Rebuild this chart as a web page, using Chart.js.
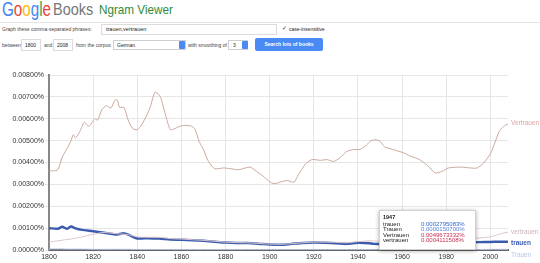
<!DOCTYPE html>
<html>
<head>
<meta charset="utf-8">
<script src="https://cdn.jsdelivr.net/npm/chart.js@4.4.1/dist/chart.umd.min.js"></script>
<style>
body{margin:0;width:540px;height:263px;background:#fff;font-family:"Liberation Sans",Arial,sans-serif;position:relative;overflow:hidden}
.a{position:absolute;white-space:nowrap}
.sm{font-size:5px;color:#444;line-height:6px}
.box{border:1px solid #dcdcdc;background:#fff;box-sizing:border-box}
.blue{background:#4a8af4;border-radius:1px}
#wrap{position:absolute;left:0;top:60px;width:540px;height:203px}
</style>
</head>
<body>
<div class="a" style="left:2px;top:-2px;font-size:20px;transform:scaleX(0.76);transform-origin:0 0"><span style="color:#4285f4">G</span><span style="color:#ea4335">o</span><span style="color:#fbbc05">o</span><span style="color:#4285f4">g</span><span style="color:#34a853">l</span><span style="color:#ea4335">e</span></div>
<div class="a" style="left:53px;top:0px;font-size:17px;color:#777;transform:scaleX(0.85);transform-origin:0 0">Books</div>
<div class="a" style="left:99px;top:2px;font-size:13px;color:#2e8b3e;transform:scaleX(0.9);transform-origin:0 0">Ngram Viewer</div>
<div class="a" style="left:0;top:22px;width:540px;height:1px;background:#e3e3e3"></div>

<div class="a sm" style="left:2px;top:26px">Graph these comma-separated phrases:</div>
<div class="a box" style="left:101px;top:24px;width:176px;height:11px"></div>
<div class="a sm" style="left:106px;top:26px;font-size:5.5px;color:#222">trauen,vertrauen</div>
<div class="a sm" style="left:282px;top:25px;font-size:6px;color:#333">&#10003;</div>
<div class="a sm" style="left:289px;top:26px;color:#222">case-insensitive</div>

<div class="a sm" style="left:2px;top:42px">between</div>
<div class="a box" style="left:21px;top:39px;width:20px;height:12px"></div>
<div class="a sm" style="left:25px;top:42px;color:#222">1800</div>
<div class="a sm" style="left:44px;top:42px">and</div>
<div class="a box" style="left:53px;top:39px;width:20px;height:12px"></div>
<div class="a sm" style="left:57px;top:42px;color:#222">2008</div>
<div class="a sm" style="left:76px;top:42px">from the corpus</div>
<div class="a box" style="left:113px;top:40px;width:73px;height:10px;border-color:#cfcfcf"></div>
<div class="a sm" style="left:117px;top:42px;color:#222">German</div>
<div class="a blue" style="left:179px;top:41px;width:6px;height:8px"></div>
<div class="a sm" style="left:188px;top:42px">with smoothing of</div>
<div class="a box" style="left:228px;top:40px;width:20px;height:10px;border-color:#cfcfcf"></div>
<div class="a sm" style="left:233px;top:42px;color:#222">3</div>
<div class="a blue" style="left:242px;top:41px;width:6px;height:8px"></div>
<div class="a" style="left:255px;top:38px;width:68px;height:13px;background:#4a8af4;border-radius:2px;color:#fff;font-size:5px;line-height:13px;text-align:center;font-weight:bold">Search lots of books</div>

<div id="wrap"><canvas id="ngram" width="540" height="203"></canvas></div>

<script>
// upper series, Vertrauen (percent)
const bigYears = [1800,1802,1804,1806,1808,1810,1811,1812,1814,1816,1818,1820,1821,1822,1824,1826,1828,1830,1831,1832,1834,1836,1838,1840,1842,1844,1846,1848,1850,1851,1853,1855,1857,1860,1864,1866,1868,1870,1872,1875,1879,1882,1886,1891,1894,1897,1900,1902,1906,1908,1911,1913,1916,1919,1923,1926,1929,1932,1935,1938,1941,1944,1946,1948,1950,1952,1956,1961,1964,1968,1972,1975,1978,1981,1987,1991,1994,1997,2000,2002,2004,2006,2008];
const bigVertrauen = [0.00362,0.00362,0.00367,0.00425,0.00460,0.00500,0.00527,0.00512,0.00542,0.00584,0.00565,0.00590,0.00600,0.00593,0.00642,0.00660,0.00649,0.00687,0.00685,0.00652,0.00652,0.00590,0.00555,0.00550,0.00573,0.00610,0.00657,0.00721,0.00708,0.00685,0.00610,0.00550,0.00555,0.00568,0.00568,0.00555,0.00497,0.00459,0.00410,0.00372,0.00375,0.00372,0.00367,0.00379,0.00360,0.00338,0.00312,0.00303,0.00314,0.00318,0.00310,0.00344,0.00390,0.00413,0.00410,0.00413,0.00405,0.00423,0.00451,0.00459,0.00460,0.00481,0.00500,0.00504,0.00497,0.00472,0.00459,0.00443,0.00428,0.00413,0.00382,0.00352,0.00359,0.00375,0.00379,0.00375,0.00375,0.00398,0.00440,0.00489,0.00542,0.00565,0.00577];

// lower series (percent)
const lowYears = [1800,1804,1806,1808,1810,1812,1815,1820,1825,1830,1834,1836,1840,1845,1850,1855,1860,1865,1870,1875,1880,1885,1890,1895,1900,1905,1910,1915,1920,1925,1930,1935,1940,1945,1947,1950,1955,1960,1965,1970,1975,1980,1985,1990,1995,2000,2004,2008];
const lowTrauen = [0.00100,0.00097,0.00106,0.00097,0.00107,0.00099,0.00092,0.00086,0.00079,0.00071,0.00076,0.00070,0.00053,0.00054,0.00052,0.00048,0.00047,0.00045,0.00042,0.00038,0.00034,0.00032,0.00032,0.00029,0.00025,0.00024,0.00028,0.00032,0.00034,0.00033,0.00031,0.00028,0.00033,0.00031,0.00028,0.00027,0.00026,0.00027,0.00026,0.00027,0.00029,0.00030,0.00031,0.00034,0.00036,0.00037,0.00038,0.00038];
const lowVertrauen = [0.00036,0.00042,0.00045,0.00048,0.00050,0.00054,0.00060,0.00072,0.00080,0.00075,0.00072,0.00070,0.00060,0.00058,0.00058,0.00052,0.00050,0.00047,0.00044,0.00040,0.00036,0.00034,0.00033,0.00030,0.00027,0.00026,0.00029,0.00033,0.00036,0.00036,0.00035,0.00033,0.00038,0.00042,0.00041,0.00040,0.00038,0.00037,0.00038,0.00040,0.00042,0.00045,0.00047,0.00050,0.00055,0.00060,0.00072,0.00082];
const capTrauen = [0.00005,0.00005,0.00005,0.00004,0.00004,0.00004,0.00004,0.00003,0.00003,0.00003,0.00003,0.00003,0.00002,0.00002,0.00002,0.00002,0.00002,0.00002,0.00002,0.00002,0.00002,0.00002,0.00002,0.00002,0.00002,0.00002,0.00002,0.00002,0.00002,0.00002,0.00002,0.00002,0.00002,0.00002,0.000015,0.000015,0.000015,0.000015,0.000015,0.000015,0.00002,0.00002,0.00002,0.00002,0.00002,0.00003,0.00003,0.00003];

// hover box content
const tipYear = 1947;
const tipNames = ['trauen','Trauen','Vertrauen','vertrauen'];
const tipValues = ['0.0002795083%','0.0000150700%','0.0049673332%','0.0004111508%'];

const pts = (xs, ys) => xs.map((x, i) => ({x: x, y: ys[i]}));

const endLabels = {
    id: 'endLabels',
    afterDatasetsDraw(chart) {
        const ctx = chart.ctx;
        const shifts = [-1, 0, 2, 6];
        ctx.save();
        ctx.textBaseline = 'middle';
        chart.data.datasets.forEach((ds, i) => {
            const meta = chart.getDatasetMeta(i);
            const last = meta.data[meta.data.length - 1];
            ctx.font = (ds.label === 'trauen' ? 'bold ' : '') + '6.5px "Liberation Sans", Arial';
            ctx.fillStyle = ds.labelColor;
            ctx.fillText(ds.label, last.x + 3, last.y + shifts[i]);
        });

        // the hover box
        const xs = chart.scales.x.getPixelForValue(tipYear);
        const left = Math.round(xs) + 6, w = 97, h = 40;
        const top = chart.chartArea.bottom - h;
        ctx.shadowColor = 'rgba(0,0,0,0.35)';
        ctx.shadowBlur = 4;
        ctx.shadowOffsetY = 1;
        ctx.fillStyle = '#fff';
        ctx.fillRect(left, top, w, h);
        ctx.shadowColor = 'transparent';
        ctx.strokeStyle = '#d0d0d0';
        ctx.lineWidth = 1;
        ctx.strokeRect(left + 0.5, top + 0.5, w - 1, h - 1);
        ctx.font = 'bold 5.5px "Liberation Sans", Arial';
        ctx.fillStyle = '#222';
        ctx.fillText(String(tipYear), left + 4, top + 7);
        const valColors = ['#3366cc', '#5a80d8', '#c8304e', '#c8304e'];
        ctx.font = '6px "Liberation Sans", Arial';
        tipNames.forEach((n, i) => {
            const y = top + 14 + i * 5.6;
            ctx.fillStyle = '#222';
            ctx.textAlign = 'left';
            ctx.fillText(n, left + 4, y);
            ctx.fillStyle = valColors[i];
            ctx.fillText(tipValues[i], left + 42, y);
        });
        ctx.restore();
    }
};

new Chart(document.getElementById('ngram'), {
    type: 'line',
    data: {
        datasets: [
            {label: 'Vertrauen', data: pts(bigYears, bigVertrauen), borderColor: '#c9a99d', labelColor: '#e0a3a3', borderWidth: 1},
            {label: 'vertrauen', data: pts(lowYears, lowVertrauen), borderColor: '#dcc6cc', labelColor: '#c9b4bb', borderWidth: 1},
            {label: 'trauen', data: pts(lowYears, lowTrauen), borderColor: '#3b5cae', labelColor: '#3b5cae', borderWidth: 2.5},
            {label: 'Trauen', data: pts(lowYears, capTrauen), borderColor: '#b3c3ea', labelColor: '#b8c6e8', borderWidth: 1}
        ]
    },
    options: {
        responsive: false,
        animation: false,
        events: [],
        layout: {padding: {top: 15, right: 32, left: 0, bottom: 0}},
        elements: {point: {radius: 0}, line: {tension: 0.25}},
        plugins: {legend: {display: false}, tooltip: {enabled: false}},
        scales: {
            x: {
                type: 'linear', min: 1800, max: 2008,
                afterFit: s => { s.height = 13; },
                border: {color: '#666', width: 2},
                grid: {color: '#e6e6e6', tickLength: 2},
                ticks: {stepSize: 20, includeBounds: false, maxRotation: 0, padding: 1, color: '#333',
                    font: {size: 7, family: '"Liberation Sans", Arial'},
                    callback: v => String(v)}
            },
            y: {
                min: 0, max: 0.008,
                afterFit: s => { s.width = 49; },
                border: {color: '#888', width: 2},
                grid: {color: '#e6e6e6', tickLength: 4},
                ticks: {stepSize: 0.001, padding: 1, color: '#333',
                    font: {size: 7, family: '"Liberation Sans", Arial'},
                    callback: v => v.toFixed(5) + '%'}
            }
        }
    },
    plugins: [endLabels]
});
</script>
</body>
</html>
